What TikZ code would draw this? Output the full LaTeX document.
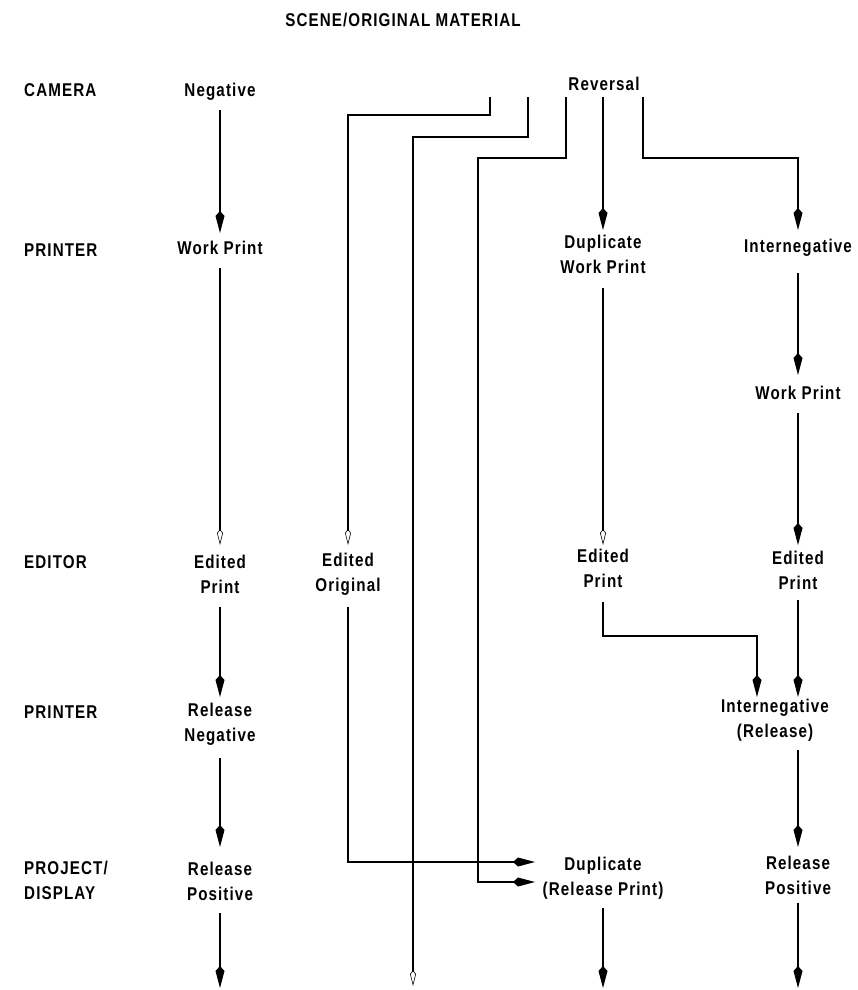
\documentclass[tikz,border=0pt]{standalone}
\usepackage{fontspec}
\setmainfont{Liberation Sans}[LetterSpace=6,FakeStretch=0.82]
\usetikzlibrary{arrows.meta,calc}
\begin{document}
\begin{tikzpicture}[x=1pt,y=-1pt,
  lab/.style={font=\fontsize{18.5}{25}\selectfont\bfseries, align=center, inner sep=0pt},
  rowlab/.style={lab, anchor=west, align=left},
  ln/.style={line width=2.2pt},
  arr/.style={ln, -{Kite[length=22pt,width=9pt,inset=5pt]}},
  farr/.style={ln, -{Kite[open,length=16pt,width=6pt,inset=4pt,line width=0.6pt]}},
]
\useasboundingbox (0,0) rectangle (857,990);

% title and row labels
\node[lab] (title) at (403,20) {SCENE/ORIGINAL MATERIAL};
\node[rowlab] (cam) at (24,90) {CAMERA};
\node[rowlab] (pr1) at (24,250) {PRINTER};
\node[rowlab] (ed) at (24,562) {EDITOR};
\node[rowlab] (pr2) at (24,712) {PRINTER};
\node[rowlab] (proj) at (24,880) {PROJECT/\\DISPLAY};

% column 1
\node[lab] (neg) at (220,92) {Negative};
\node[lab] (wp1) at (220,248) {Work Print};
\node[lab] (ep1) at (220,574) {Edited\\Print};
\node[lab] (rn) at (220,724) {Release\\Negative};
\node[lab] (rp1) at (220,881) {Release\\Positive};
\coordinate (b1) at (220,988);

% column 2
\node[lab] (eo) at (348,574) {Edited\\Original};
\coordinate (b2) at (413,986);

% column 3
\node[lab] (rev) at (604,84) {Reversal};
\node[lab] (dwp) at (603,254) {Duplicate\\Work Print};
\node[lab] (ep3) at (603,568) {Edited\\Print};
\node[lab] (dup) at (603,878) {Duplicate\\(Release Print)};
\coordinate (b3) at (603,988);

% column 4
\node[lab] (ineg) at (798,248) {Internegative};
\node[lab] (wp4) at (798,393) {Work Print};
\node[lab] (ep4) at (798,570) {Edited\\Print};
\node[lab] (ir) at (775,720) {Internegative\\(Release)};
\node[lab] (rp4) at (798,875) {Release\\Positive};
\coordinate (b4) at (798,988);

% column 1 connectors
\draw[arr] ($(neg)+(0,18)$) -- ($(wp1)+(0,-15)$);
\draw[farr] ($(wp1)+(0,20)$) -- ($(ep1)+(0,-29)$);
\draw[arr] ($(ep1)+(0,33)$) -- ($(rn)+(0,-27)$);
\draw[arr] ($(rn)+(0,34)$) -- ($(rp1)+(0,-34)$);
\draw[arr] ($(rp1)+(0,32)$) -- (b1);

% reversal branches
\draw[farr] ($(rev)+(-114,13)$) -- ++(0,18) -| ($(eo)+(0,-29)$);
\draw[farr] ($(rev)+(-76,13)$) -- ++(0,40) -| (b2);
\draw[arr] ($(rev)+(-38,13)$) -- ++(0,61) -- ++(-88,0) |- ($(dup)+(-68,4)$);
\draw[arr] ($(rev)+(-1,13)$) -- ($(dwp)+(0,-24)$);
\draw[arr] ($(rev)+(39,13)$) -- ++(0,61) -| ($(ineg)+(0,-18)$);

% column 2
\draw[arr] ($(eo)+(0,33)$) |- ($(dup)+(-68,-16)$);

% column 3
\draw[farr] ($(dwp)+(0,34)$) -- ($(ep3)+(0,-23)$);
\draw[arr] ($(ep3)+(0,34)$) -- ++(0,34) -| ($(ir)+(-18,-23)$);
\draw[arr] ($(dup)+(0,30)$) -- (b3);

% column 4
\draw[arr] ($(ineg)+(0,25)$) -- ($(wp4)+(0,-18)$);
\draw[arr] ($(wp4)+(0,20)$) -- ($(ep4)+(0,-25)$);
\draw[arr] ($(ep4)+(0,30)$) -- ($(ir)+(23,-23)$);
\draw[arr] ($(ir)+(23,30)$) -- ($(rp4)+(0,-28)$);
\draw[arr] ($(rp4)+(0,28)$) -- (b4);
\end{tikzpicture}
\end{document}
